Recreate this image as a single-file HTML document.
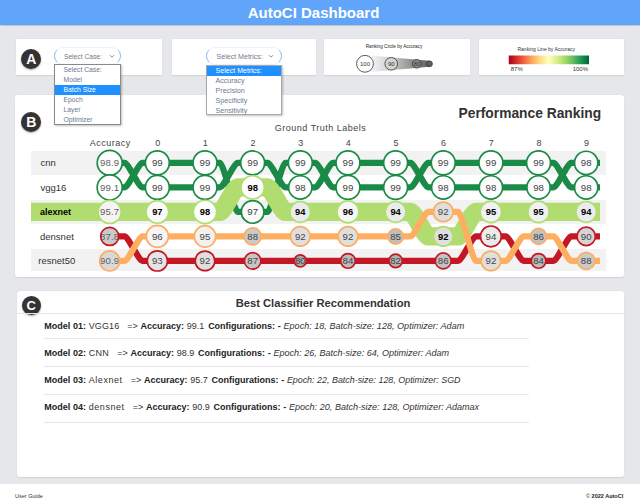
<!DOCTYPE html>
<html>
<head>
<meta charset="utf-8">
<title>AutoCI Dashboard</title>
<style>
*{box-sizing:border-box;margin:0;padding:0}
html,body{width:640px;height:498px;overflow:hidden}
body{background:#e5e7eb;font-family:"Liberation Sans",sans-serif;position:relative;color:#333}
.abs{position:absolute}
.hdr{left:0;top:0;width:640px;height:24.6px;background:#60a5fa;box-shadow:0 0.5px 1px rgba(0,0,0,.15)}
.hdr div{position:absolute;left:0;width:627px;top:3.5px;text-align:center;color:#fff;font-weight:bold;font-size:15px;line-height:17px}
.panel{background:#fff;border-radius:1px;box-shadow:0 0.5px 1.5px rgba(0,0,0,.09)}
.badge{width:20px;height:20px;border-radius:50%;background:#333;color:#fff;font-weight:bold;font-size:14px;line-height:20px;text-align:center;box-shadow:0 1px 2px rgba(0,0,0,.35)}
.sel{border:1px solid;border-color:#eaf2fe #8ebaf8;border-radius:10px;background:#fff;color:#737b88;font-size:6.7px;line-height:17.6px;white-space:nowrap}
.dd{background:#fff;border:1px solid #8a8a8a;box-shadow:1px 1px 2px rgba(0,0,0,.25);font-size:6.75px;color:#6b7a90;white-space:nowrap}
.dd div{height:10px;line-height:10px;padding-left:8.3px}
.dd div.hl{background:#1e90ff;color:#fff}
.chart{position:absolute;left:0;top:0}
.chart text{font-family:"Liberation Sans",sans-serif}
.cv{font-size:9.7px;fill:#444}
.cvb{font-size:9.4px;fill:#000;font-weight:bold}
.cva{font-size:9.6px;fill:#5f5f5f;letter-spacing:.15px}
.ch{font-size:9px;fill:#444;letter-spacing:.5px}
.rl{font-size:9.5px;fill:#333}
.rlb{font-size:9px;fill:#000;font-weight:bold}
.title{font-weight:bold;color:#333}
.row{position:absolute;left:44.3px;font-size:9px;line-height:12px;white-space:pre;color:#333;word-spacing:.2px}
.row b{color:#222}
.row i{color:#333;font-size:9.05px;word-spacing:.1px}
.sep{position:absolute;left:44px;width:485px;height:1px;background:#e5e7eb}
.tiny{font-size:5px;color:#333;white-space:nowrap;text-align:center}
</style>
</head>
<body>
<div class="abs hdr"><div>AutoCI Dashboard</div></div>

<!-- top panels -->
<div class="abs panel" style="left:16px;top:38.75px;width:146px;height:36.25px"></div>
<div class="abs panel" style="left:171.6px;top:38.75px;width:144.2px;height:36.25px"></div>
<div class="abs panel" style="left:323.75px;top:38.75px;width:146.25px;height:36.25px"></div>
<div class="abs panel" style="left:478.75px;top:38.75px;width:145.5px;height:36.25px"></div>

<!-- panel B and C -->
<div class="abs panel" style="left:14.8px;top:94.8px;width:609.7px;height:181.8px;border-radius:3px"></div>
<div class="abs panel" style="left:17.3px;top:291.3px;width:607.2px;height:185.7px;border-radius:3px"></div>

<!-- footer -->
<div class="abs" style="left:0;top:483.5px;width:640px;height:15px;background:#fff"></div>
<div class="abs" style="left:15px;top:493px;font-size:5.5px;line-height:7px;color:#333;white-space:nowrap">User Guide</div>
<div class="abs" style="left:586px;top:493px;font-size:5.5px;line-height:7px;color:#222;white-space:nowrap">© <b>2022 AutoCI</b></div>

<svg class="chart" width="640" height="498" viewBox="0 0 640 498">
<defs><clipPath id="cc"><rect x="31" y="100" width="574.9" height="171"/></clipPath></defs>
<g clip-path="url(#cc)">
<rect x="31" y="150.90" width="574.9" height="24.00" fill="#f2f2f2"/>
<rect x="31" y="175.40" width="574.9" height="24.00" fill="#ffffff"/>
<rect x="31" y="199.90" width="574.9" height="24.00" fill="#f2f2f2"/>
<rect x="31" y="224.40" width="574.9" height="24.00" fill="#ffffff"/>
<rect x="31" y="248.90" width="574.9" height="24.00" fill="#f2f2f2"/>
<path d="M109.70,162.90 L124.70,162.90 C128.23,162.90 138.82,187.40 142.35,187.40 L157.35,187.40 L205.00,187.40 L220.00,187.40 C223.53,187.40 234.12,162.90 237.65,162.90 L252.65,162.90 L267.65,162.90 C271.18,162.90 281.77,187.40 285.30,187.40 L300.30,187.40 L315.30,187.40 C318.83,187.40 329.42,162.90 332.95,162.90 L347.95,162.90 L395.60,162.90 L410.60,162.90 C414.13,162.90 424.72,187.40 428.25,187.40 L443.25,187.40 L490.90,187.40 L538.55,187.40 L553.55,187.40 C557.08,187.40 567.67,162.90 571.20,162.90 L586.20,162.90 L600.00,162.90" fill="none" stroke="#1a8b46" stroke-width="6.2"/>
<path d="M109.70,187.40 L124.70,187.40 C128.23,187.40 138.82,162.90 142.35,162.90 L157.35,162.90 L205.00,162.90 L220.00,162.90 C223.53,162.90 234.12,211.90 237.65,211.90 L252.65,211.90 L267.65,211.90 C271.18,211.90 281.77,162.90 285.30,162.90 L300.30,162.90 L315.30,162.90 C318.83,162.90 329.42,187.40 332.95,187.40 L347.95,187.40 L395.60,187.40 L410.60,187.40 C414.13,187.40 424.72,162.90 428.25,162.90 L443.25,162.90 L490.90,162.90 L538.55,162.90 L553.55,162.90 C557.08,162.90 567.67,187.40 571.20,187.40 L586.20,187.40 L600.00,187.40" fill="none" stroke="#1a8b46" stroke-width="6.2"/>
<path d="M31,211.90 L109.70,211.90 L157.35,211.90 L205.00,211.90 L220.00,211.90 C223.53,211.90 234.12,187.40 237.65,187.40 L252.65,187.40 L267.65,187.40 C271.18,187.40 281.77,211.90 285.30,211.90 L300.30,211.90 L347.95,211.90 L395.60,211.90 L410.60,211.90 C414.13,211.90 424.72,236.40 428.25,236.40 L443.25,236.40 L458.25,236.40 C461.78,236.40 472.37,211.90 475.90,211.90 L490.90,211.90 L538.55,211.90 L586.20,211.90 L600.00,211.90" fill="none" stroke="#b1dd70" stroke-width="18.3"/>
<path d="M109.70,236.40 L124.70,236.40 C128.23,236.40 138.82,260.90 142.35,260.90 L157.35,260.90 L205.00,260.90 L252.65,260.90 L300.30,260.90 L347.95,260.90 L395.60,260.90 L443.25,260.90 L458.25,260.90 C461.78,260.90 472.37,236.40 475.90,236.40 L490.90,236.40 L505.90,236.40 C509.43,236.40 520.02,260.90 523.55,260.90 L538.55,260.90 L553.55,260.90 C557.08,260.90 567.67,236.40 571.20,236.40 L586.20,236.40 L600.00,236.40" fill="none" stroke="#c41726" stroke-width="6.2"/>
<path d="M109.70,260.90 L124.70,260.90 C128.23,260.90 138.82,236.40 142.35,236.40 L157.35,236.40 L205.00,236.40 L252.65,236.40 L300.30,236.40 L347.95,236.40 L395.60,236.40 L410.60,236.40 C414.13,236.40 424.72,211.90 428.25,211.90 L443.25,211.90 L458.25,211.90 C461.78,211.90 472.37,260.90 475.90,260.90 L490.90,260.90 L505.90,260.90 C509.43,260.90 520.02,236.40 523.55,236.40 L538.55,236.40 L553.55,236.40 C557.08,236.40 567.67,260.90 571.20,260.90 L586.20,260.90 L600.00,260.90" fill="none" stroke="#fdae61" stroke-width="6.2"/>
</g>
<circle cx="109.70" cy="162.90" r="12.47" fill="#ffffff"/>
<clipPath id="c_g1_0"><circle cx="109.70" cy="162.90" r="12.47"/></clipPath>
<text clip-path="url(#c_g1_0)" x="109.70" y="166.10" text-anchor="middle" class="cva">98.9</text>
<circle cx="109.70" cy="162.90" r="12.47" fill="none" stroke="#1a8b46" stroke-width="1.7"/>
<circle cx="157.35" cy="187.40" r="11.95" fill="#ffffff"/>
<clipPath id="c_g1_1"><circle cx="157.35" cy="187.40" r="11.95"/></clipPath>
<text clip-path="url(#c_g1_1)" x="157.35" y="190.80" text-anchor="middle" class="cv">99</text>
<circle cx="157.35" cy="187.40" r="11.95" fill="none" stroke="#1a8b46" stroke-width="1.7"/>
<circle cx="205.00" cy="187.40" r="11.95" fill="#ffffff"/>
<clipPath id="c_g1_2"><circle cx="205.00" cy="187.40" r="11.95"/></clipPath>
<text clip-path="url(#c_g1_2)" x="205.00" y="190.80" text-anchor="middle" class="cv">99</text>
<circle cx="205.00" cy="187.40" r="11.95" fill="none" stroke="#1a8b46" stroke-width="1.7"/>
<circle cx="252.65" cy="162.90" r="11.95" fill="#ffffff"/>
<clipPath id="c_g1_3"><circle cx="252.65" cy="162.90" r="11.95"/></clipPath>
<text clip-path="url(#c_g1_3)" x="252.65" y="166.30" text-anchor="middle" class="cv">99</text>
<circle cx="252.65" cy="162.90" r="11.95" fill="none" stroke="#1a8b46" stroke-width="1.7"/>
<circle cx="300.30" cy="187.40" r="11.64" fill="#fdfdfd"/>
<clipPath id="c_g1_4"><circle cx="300.30" cy="187.40" r="11.64"/></clipPath>
<text clip-path="url(#c_g1_4)" x="300.30" y="190.80" text-anchor="middle" class="cv">98</text>
<circle cx="300.30" cy="187.40" r="11.64" fill="none" stroke="#1a8b46" stroke-width="1.7"/>
<circle cx="347.95" cy="162.90" r="11.95" fill="#ffffff"/>
<clipPath id="c_g1_5"><circle cx="347.95" cy="162.90" r="11.95"/></clipPath>
<text clip-path="url(#c_g1_5)" x="347.95" y="166.30" text-anchor="middle" class="cv">99</text>
<circle cx="347.95" cy="162.90" r="11.95" fill="none" stroke="#1a8b46" stroke-width="1.7"/>
<circle cx="395.60" cy="162.90" r="11.95" fill="#ffffff"/>
<clipPath id="c_g1_6"><circle cx="395.60" cy="162.90" r="11.95"/></clipPath>
<text clip-path="url(#c_g1_6)" x="395.60" y="166.30" text-anchor="middle" class="cv">99</text>
<circle cx="395.60" cy="162.90" r="11.95" fill="none" stroke="#1a8b46" stroke-width="1.7"/>
<circle cx="443.25" cy="187.40" r="11.64" fill="#fdfdfd"/>
<clipPath id="c_g1_7"><circle cx="443.25" cy="187.40" r="11.64"/></clipPath>
<text clip-path="url(#c_g1_7)" x="443.25" y="190.80" text-anchor="middle" class="cv">98</text>
<circle cx="443.25" cy="187.40" r="11.64" fill="none" stroke="#1a8b46" stroke-width="1.7"/>
<circle cx="490.90" cy="187.40" r="11.64" fill="#fdfdfd"/>
<clipPath id="c_g1_8"><circle cx="490.90" cy="187.40" r="11.64"/></clipPath>
<text clip-path="url(#c_g1_8)" x="490.90" y="190.80" text-anchor="middle" class="cv">98</text>
<circle cx="490.90" cy="187.40" r="11.64" fill="none" stroke="#1a8b46" stroke-width="1.7"/>
<circle cx="538.55" cy="187.40" r="11.64" fill="#fdfdfd"/>
<clipPath id="c_g1_9"><circle cx="538.55" cy="187.40" r="11.64"/></clipPath>
<text clip-path="url(#c_g1_9)" x="538.55" y="190.80" text-anchor="middle" class="cv">98</text>
<circle cx="538.55" cy="187.40" r="11.64" fill="none" stroke="#1a8b46" stroke-width="1.7"/>
<circle cx="586.20" cy="162.90" r="11.64" fill="#fdfdfd"/>
<clipPath id="c_g1_10"><circle cx="586.20" cy="162.90" r="11.64"/></clipPath>
<text clip-path="url(#c_g1_10)" x="586.20" y="166.30" text-anchor="middle" class="cv">98</text>
<circle cx="586.20" cy="162.90" r="11.64" fill="none" stroke="#1a8b46" stroke-width="1.7"/>
<circle cx="109.70" cy="187.40" r="12.53" fill="#ffffff"/>
<clipPath id="c_g2_0"><circle cx="109.70" cy="187.40" r="12.53"/></clipPath>
<text clip-path="url(#c_g2_0)" x="109.70" y="190.60" text-anchor="middle" class="cva">99.1</text>
<circle cx="109.70" cy="187.40" r="12.53" fill="none" stroke="#1a8b46" stroke-width="1.7"/>
<circle cx="157.35" cy="162.90" r="11.95" fill="#ffffff"/>
<clipPath id="c_g2_1"><circle cx="157.35" cy="162.90" r="11.95"/></clipPath>
<text clip-path="url(#c_g2_1)" x="157.35" y="166.30" text-anchor="middle" class="cv">99</text>
<circle cx="157.35" cy="162.90" r="11.95" fill="none" stroke="#1a8b46" stroke-width="1.7"/>
<circle cx="205.00" cy="162.90" r="11.95" fill="#ffffff"/>
<clipPath id="c_g2_2"><circle cx="205.00" cy="162.90" r="11.95"/></clipPath>
<text clip-path="url(#c_g2_2)" x="205.00" y="166.30" text-anchor="middle" class="cv">99</text>
<circle cx="205.00" cy="162.90" r="11.95" fill="none" stroke="#1a8b46" stroke-width="1.7"/>
<circle cx="252.65" cy="211.90" r="11.34" fill="#fafafa"/>
<clipPath id="c_g2_3"><circle cx="252.65" cy="211.90" r="11.34"/></clipPath>
<text clip-path="url(#c_g2_3)" x="252.65" y="215.30" text-anchor="middle" class="cv">97</text>
<circle cx="252.65" cy="211.90" r="11.34" fill="none" stroke="#1a8b46" stroke-width="1.7"/>
<circle cx="300.30" cy="162.90" r="11.95" fill="#ffffff"/>
<clipPath id="c_g2_4"><circle cx="300.30" cy="162.90" r="11.95"/></clipPath>
<text clip-path="url(#c_g2_4)" x="300.30" y="166.30" text-anchor="middle" class="cv">99</text>
<circle cx="300.30" cy="162.90" r="11.95" fill="none" stroke="#1a8b46" stroke-width="1.7"/>
<circle cx="347.95" cy="187.40" r="11.95" fill="#ffffff"/>
<clipPath id="c_g2_5"><circle cx="347.95" cy="187.40" r="11.95"/></clipPath>
<text clip-path="url(#c_g2_5)" x="347.95" y="190.80" text-anchor="middle" class="cv">99</text>
<circle cx="347.95" cy="187.40" r="11.95" fill="none" stroke="#1a8b46" stroke-width="1.7"/>
<circle cx="395.60" cy="187.40" r="11.95" fill="#ffffff"/>
<clipPath id="c_g2_6"><circle cx="395.60" cy="187.40" r="11.95"/></clipPath>
<text clip-path="url(#c_g2_6)" x="395.60" y="190.80" text-anchor="middle" class="cv">99</text>
<circle cx="395.60" cy="187.40" r="11.95" fill="none" stroke="#1a8b46" stroke-width="1.7"/>
<circle cx="443.25" cy="162.90" r="11.95" fill="#ffffff"/>
<clipPath id="c_g2_7"><circle cx="443.25" cy="162.90" r="11.95"/></clipPath>
<text clip-path="url(#c_g2_7)" x="443.25" y="166.30" text-anchor="middle" class="cv">99</text>
<circle cx="443.25" cy="162.90" r="11.95" fill="none" stroke="#1a8b46" stroke-width="1.7"/>
<circle cx="490.90" cy="162.90" r="11.95" fill="#ffffff"/>
<clipPath id="c_g2_8"><circle cx="490.90" cy="162.90" r="11.95"/></clipPath>
<text clip-path="url(#c_g2_8)" x="490.90" y="166.30" text-anchor="middle" class="cv">99</text>
<circle cx="490.90" cy="162.90" r="11.95" fill="none" stroke="#1a8b46" stroke-width="1.7"/>
<circle cx="538.55" cy="162.90" r="11.95" fill="#ffffff"/>
<clipPath id="c_g2_9"><circle cx="538.55" cy="162.90" r="11.95"/></clipPath>
<text clip-path="url(#c_g2_9)" x="538.55" y="166.30" text-anchor="middle" class="cv">99</text>
<circle cx="538.55" cy="162.90" r="11.95" fill="none" stroke="#1a8b46" stroke-width="1.7"/>
<circle cx="586.20" cy="187.40" r="11.64" fill="#fdfdfd"/>
<clipPath id="c_g2_10"><circle cx="586.20" cy="187.40" r="11.64"/></clipPath>
<text clip-path="url(#c_g2_10)" x="586.20" y="190.80" text-anchor="middle" class="cv">98</text>
<circle cx="586.20" cy="187.40" r="11.64" fill="none" stroke="#1a8b46" stroke-width="1.7"/>
<circle cx="109.70" cy="211.90" r="11.49" fill="#f4f4f4"/>
<clipPath id="c_alex_0"><circle cx="109.70" cy="211.90" r="11.49"/></clipPath>
<text clip-path="url(#c_alex_0)" x="109.70" y="215.10" text-anchor="middle" class="cva">95.7</text>
<circle cx="109.70" cy="211.90" r="11.49" fill="none" stroke="#b1dd70" stroke-width="1.7"/>
<circle cx="157.35" cy="211.90" r="11.34" fill="#fafafa"/>
<clipPath id="c_alex_1"><circle cx="157.35" cy="211.90" r="11.34"/></clipPath>
<text clip-path="url(#c_alex_1)" x="157.35" y="215.30" text-anchor="middle" class="cvb">97</text>
<circle cx="157.35" cy="211.90" r="11.34" fill="none" stroke="#b1dd70" stroke-width="1.7"/>
<circle cx="205.00" cy="211.90" r="11.64" fill="#fdfdfd"/>
<clipPath id="c_alex_2"><circle cx="205.00" cy="211.90" r="11.64"/></clipPath>
<text clip-path="url(#c_alex_2)" x="205.00" y="215.30" text-anchor="middle" class="cvb">98</text>
<circle cx="205.00" cy="211.90" r="11.64" fill="none" stroke="#b1dd70" stroke-width="1.7"/>
<circle cx="252.65" cy="187.40" r="11.64" fill="#fdfdfd"/>
<clipPath id="c_alex_3"><circle cx="252.65" cy="187.40" r="11.64"/></clipPath>
<text clip-path="url(#c_alex_3)" x="252.65" y="190.80" text-anchor="middle" class="cvb">98</text>
<circle cx="252.65" cy="187.40" r="11.64" fill="none" stroke="#b1dd70" stroke-width="1.7"/>
<circle cx="300.30" cy="211.90" r="10.41" fill="#ebebeb"/>
<clipPath id="c_alex_4"><circle cx="300.30" cy="211.90" r="10.41"/></clipPath>
<text clip-path="url(#c_alex_4)" x="300.30" y="215.30" text-anchor="middle" class="cvb">94</text>
<circle cx="300.30" cy="211.90" r="10.41" fill="none" stroke="#b1dd70" stroke-width="1.7"/>
<circle cx="347.95" cy="211.90" r="11.03" fill="#f6f6f6"/>
<clipPath id="c_alex_5"><circle cx="347.95" cy="211.90" r="11.03"/></clipPath>
<text clip-path="url(#c_alex_5)" x="347.95" y="215.30" text-anchor="middle" class="cvb">96</text>
<circle cx="347.95" cy="211.90" r="11.03" fill="none" stroke="#b1dd70" stroke-width="1.7"/>
<circle cx="395.60" cy="211.90" r="10.41" fill="#ebebeb"/>
<clipPath id="c_alex_6"><circle cx="395.60" cy="211.90" r="10.41"/></clipPath>
<text clip-path="url(#c_alex_6)" x="395.60" y="215.30" text-anchor="middle" class="cvb">94</text>
<circle cx="395.60" cy="211.90" r="10.41" fill="none" stroke="#b1dd70" stroke-width="1.7"/>
<circle cx="443.25" cy="236.40" r="9.80" fill="#dfdfdf"/>
<clipPath id="c_alex_7"><circle cx="443.25" cy="236.40" r="9.80"/></clipPath>
<text clip-path="url(#c_alex_7)" x="443.25" y="239.80" text-anchor="middle" class="cvb">92</text>
<circle cx="443.25" cy="236.40" r="9.80" fill="none" stroke="#b1dd70" stroke-width="1.7"/>
<circle cx="490.90" cy="211.90" r="10.72" fill="#f1f1f1"/>
<clipPath id="c_alex_8"><circle cx="490.90" cy="211.90" r="10.72"/></clipPath>
<text clip-path="url(#c_alex_8)" x="490.90" y="215.30" text-anchor="middle" class="cvb">95</text>
<circle cx="490.90" cy="211.90" r="10.72" fill="none" stroke="#b1dd70" stroke-width="1.7"/>
<circle cx="538.55" cy="211.90" r="10.72" fill="#f1f1f1"/>
<clipPath id="c_alex_9"><circle cx="538.55" cy="211.90" r="10.72"/></clipPath>
<text clip-path="url(#c_alex_9)" x="538.55" y="215.30" text-anchor="middle" class="cvb">95</text>
<circle cx="538.55" cy="211.90" r="10.72" fill="none" stroke="#b1dd70" stroke-width="1.7"/>
<circle cx="586.20" cy="211.90" r="10.41" fill="#ebebeb"/>
<clipPath id="c_alex_10"><circle cx="586.20" cy="211.90" r="10.41"/></clipPath>
<text clip-path="url(#c_alex_10)" x="586.20" y="215.30" text-anchor="middle" class="cvb">94</text>
<circle cx="586.20" cy="211.90" r="10.41" fill="none" stroke="#b1dd70" stroke-width="1.7"/>
<circle cx="109.70" cy="236.40" r="9.05" fill="#c9c9c9"/>
<clipPath id="c_red_0"><circle cx="109.70" cy="236.40" r="9.05"/></clipPath>
<text clip-path="url(#c_red_0)" x="109.70" y="239.60" text-anchor="middle" class="cva">87.8</text>
<circle cx="109.70" cy="236.40" r="9.05" fill="none" stroke="#c41726" stroke-width="1.7"/>
<circle cx="157.35" cy="260.90" r="10.10" fill="#e5e5e5"/>
<clipPath id="c_red_1"><circle cx="157.35" cy="260.90" r="10.10"/></clipPath>
<text clip-path="url(#c_red_1)" x="157.35" y="264.30" text-anchor="middle" class="cv">93</text>
<circle cx="157.35" cy="260.90" r="10.10" fill="none" stroke="#c41726" stroke-width="1.7"/>
<circle cx="205.00" cy="260.90" r="9.80" fill="#dfdfdf"/>
<clipPath id="c_red_2"><circle cx="205.00" cy="260.90" r="9.80"/></clipPath>
<text clip-path="url(#c_red_2)" x="205.00" y="264.30" text-anchor="middle" class="cv">92</text>
<circle cx="205.00" cy="260.90" r="9.80" fill="none" stroke="#c41726" stroke-width="1.7"/>
<circle cx="252.65" cy="260.90" r="8.26" fill="#c5c5c5"/>
<clipPath id="c_red_3"><circle cx="252.65" cy="260.90" r="8.26"/></clipPath>
<text clip-path="url(#c_red_3)" x="252.65" y="264.30" text-anchor="middle" class="cv">87</text>
<circle cx="252.65" cy="260.90" r="8.26" fill="none" stroke="#c41726" stroke-width="1.7"/>
<circle cx="300.30" cy="260.90" r="6.10" fill="#a8a8a8"/>
<clipPath id="c_red_4"><circle cx="300.30" cy="260.90" r="6.10"/></clipPath>
<text clip-path="url(#c_red_4)" x="300.30" y="264.30" text-anchor="middle" class="cv">80</text>
<circle cx="300.30" cy="260.90" r="6.10" fill="none" stroke="#c41726" stroke-width="1.7"/>
<circle cx="347.95" cy="260.90" r="7.33" fill="#bababa"/>
<clipPath id="c_red_5"><circle cx="347.95" cy="260.90" r="7.33"/></clipPath>
<text clip-path="url(#c_red_5)" x="347.95" y="264.30" text-anchor="middle" class="cv">84</text>
<circle cx="347.95" cy="260.90" r="7.33" fill="none" stroke="#c41726" stroke-width="1.7"/>
<circle cx="395.60" cy="260.90" r="6.72" fill="#b2b2b2"/>
<clipPath id="c_red_6"><circle cx="395.60" cy="260.90" r="6.72"/></clipPath>
<text clip-path="url(#c_red_6)" x="395.60" y="264.30" text-anchor="middle" class="cv">82</text>
<circle cx="395.60" cy="260.90" r="6.72" fill="none" stroke="#c41726" stroke-width="1.7"/>
<circle cx="443.25" cy="260.90" r="7.95" fill="#c2c2c2"/>
<clipPath id="c_red_7"><circle cx="443.25" cy="260.90" r="7.95"/></clipPath>
<text clip-path="url(#c_red_7)" x="443.25" y="264.30" text-anchor="middle" class="cv">86</text>
<circle cx="443.25" cy="260.90" r="7.95" fill="none" stroke="#c41726" stroke-width="1.7"/>
<circle cx="490.90" cy="236.40" r="10.41" fill="#ebebeb"/>
<clipPath id="c_red_8"><circle cx="490.90" cy="236.40" r="10.41"/></clipPath>
<text clip-path="url(#c_red_8)" x="490.90" y="239.80" text-anchor="middle" class="cv">94</text>
<circle cx="490.90" cy="236.40" r="10.41" fill="none" stroke="#c41726" stroke-width="1.7"/>
<circle cx="538.55" cy="260.90" r="7.33" fill="#bababa"/>
<clipPath id="c_red_9"><circle cx="538.55" cy="260.90" r="7.33"/></clipPath>
<text clip-path="url(#c_red_9)" x="538.55" y="264.30" text-anchor="middle" class="cv">84</text>
<circle cx="538.55" cy="260.90" r="7.33" fill="none" stroke="#c41726" stroke-width="1.7"/>
<circle cx="586.20" cy="236.40" r="9.18" fill="#d4d4d4"/>
<clipPath id="c_red_10"><circle cx="586.20" cy="236.40" r="9.18"/></clipPath>
<text clip-path="url(#c_red_10)" x="586.20" y="239.80" text-anchor="middle" class="cv">90</text>
<circle cx="586.20" cy="236.40" r="9.18" fill="none" stroke="#c41726" stroke-width="1.7"/>
<circle cx="109.70" cy="260.90" r="10.01" fill="#d9d9d9"/>
<clipPath id="c_org_0"><circle cx="109.70" cy="260.90" r="10.01"/></clipPath>
<text clip-path="url(#c_org_0)" x="109.70" y="264.10" text-anchor="middle" class="cva">90.9</text>
<circle cx="109.70" cy="260.90" r="10.01" fill="none" stroke="#fdae61" stroke-width="1.7"/>
<circle cx="157.35" cy="236.40" r="11.03" fill="#f6f6f6"/>
<clipPath id="c_org_1"><circle cx="157.35" cy="236.40" r="11.03"/></clipPath>
<text clip-path="url(#c_org_1)" x="157.35" y="239.80" text-anchor="middle" class="cv">96</text>
<circle cx="157.35" cy="236.40" r="11.03" fill="none" stroke="#fdae61" stroke-width="1.7"/>
<circle cx="205.00" cy="236.40" r="10.72" fill="#f1f1f1"/>
<clipPath id="c_org_2"><circle cx="205.00" cy="236.40" r="10.72"/></clipPath>
<text clip-path="url(#c_org_2)" x="205.00" y="239.80" text-anchor="middle" class="cv">95</text>
<circle cx="205.00" cy="236.40" r="10.72" fill="none" stroke="#fdae61" stroke-width="1.7"/>
<circle cx="252.65" cy="236.40" r="8.56" fill="#cacaca"/>
<clipPath id="c_org_3"><circle cx="252.65" cy="236.40" r="8.56"/></clipPath>
<text clip-path="url(#c_org_3)" x="252.65" y="239.80" text-anchor="middle" class="cv">88</text>
<circle cx="252.65" cy="236.40" r="8.56" fill="none" stroke="#fdae61" stroke-width="1.7"/>
<circle cx="300.30" cy="236.40" r="9.80" fill="#dfdfdf"/>
<clipPath id="c_org_4"><circle cx="300.30" cy="236.40" r="9.80"/></clipPath>
<text clip-path="url(#c_org_4)" x="300.30" y="239.80" text-anchor="middle" class="cv">92</text>
<circle cx="300.30" cy="236.40" r="9.80" fill="none" stroke="#fdae61" stroke-width="1.7"/>
<circle cx="347.95" cy="236.40" r="9.80" fill="#dfdfdf"/>
<clipPath id="c_org_5"><circle cx="347.95" cy="236.40" r="9.80"/></clipPath>
<text clip-path="url(#c_org_5)" x="347.95" y="239.80" text-anchor="middle" class="cv">92</text>
<circle cx="347.95" cy="236.40" r="9.80" fill="none" stroke="#fdae61" stroke-width="1.7"/>
<circle cx="395.60" cy="236.40" r="7.64" fill="#bebebe"/>
<clipPath id="c_org_6"><circle cx="395.60" cy="236.40" r="7.64"/></clipPath>
<text clip-path="url(#c_org_6)" x="395.60" y="239.80" text-anchor="middle" class="cv">85</text>
<circle cx="395.60" cy="236.40" r="7.64" fill="none" stroke="#fdae61" stroke-width="1.7"/>
<circle cx="443.25" cy="211.90" r="9.80" fill="#dfdfdf"/>
<clipPath id="c_org_7"><circle cx="443.25" cy="211.90" r="9.80"/></clipPath>
<text clip-path="url(#c_org_7)" x="443.25" y="215.30" text-anchor="middle" class="cv">92</text>
<circle cx="443.25" cy="211.90" r="9.80" fill="none" stroke="#fdae61" stroke-width="1.7"/>
<circle cx="490.90" cy="260.90" r="9.80" fill="#dfdfdf"/>
<clipPath id="c_org_8"><circle cx="490.90" cy="260.90" r="9.80"/></clipPath>
<text clip-path="url(#c_org_8)" x="490.90" y="264.30" text-anchor="middle" class="cv">92</text>
<circle cx="490.90" cy="260.90" r="9.80" fill="none" stroke="#fdae61" stroke-width="1.7"/>
<circle cx="538.55" cy="236.40" r="7.95" fill="#c2c2c2"/>
<clipPath id="c_org_9"><circle cx="538.55" cy="236.40" r="7.95"/></clipPath>
<text clip-path="url(#c_org_9)" x="538.55" y="239.80" text-anchor="middle" class="cv">86</text>
<circle cx="538.55" cy="236.40" r="7.95" fill="none" stroke="#fdae61" stroke-width="1.7"/>
<circle cx="586.20" cy="260.90" r="8.56" fill="#cacaca"/>
<clipPath id="c_org_10"><circle cx="586.20" cy="260.90" r="8.56"/></clipPath>
<text clip-path="url(#c_org_10)" x="586.20" y="264.30" text-anchor="middle" class="cv">88</text>
<circle cx="586.20" cy="260.90" r="8.56" fill="none" stroke="#fdae61" stroke-width="1.7"/>
<text x="110.30" y="145.8" text-anchor="middle" class="ch">Accuracy</text>
<text x="157.95" y="145.8" text-anchor="middle" class="ch">0</text>
<text x="205.60" y="145.8" text-anchor="middle" class="ch">1</text>
<text x="253.25" y="145.8" text-anchor="middle" class="ch">2</text>
<text x="300.90" y="145.8" text-anchor="middle" class="ch">3</text>
<text x="348.55" y="145.8" text-anchor="middle" class="ch">4</text>
<text x="396.20" y="145.8" text-anchor="middle" class="ch">5</text>
<text x="443.85" y="145.8" text-anchor="middle" class="ch">6</text>
<text x="491.50" y="145.8" text-anchor="middle" class="ch">7</text>
<text x="539.15" y="145.8" text-anchor="middle" class="ch">8</text>
<text x="586.80" y="145.8" text-anchor="middle" class="ch">9</text>
<text x="320.6" y="130.7" text-anchor="middle" class="ch">Ground Truth Labels</text>
<text x="40.40" y="166.00" class="rl">cnn</text>
<text x="40.40" y="190.50" class="rl">vgg16</text>
<text x="40.00" y="215.00" class="rlb">alexnet</text>
<text x="40.00" y="239.50" class="rl">densnet</text>
<text x="38.30" y="264.00" class="rl">resnet50</text>
</svg>

<!-- legend svg -->
<svg class="chart" width="640" height="100" viewBox="0 0 640 100">
<defs>
<linearGradient id="gg" x1="0" x2="1" y1="0" y2="0"><stop offset="0" stop-color="#ffffff"/><stop offset="0.4" stop-color="#cfcfcf"/><stop offset="0.8" stop-color="#808080"/><stop offset="1" stop-color="#606060"/></linearGradient>
<linearGradient id="ryg" x1="0" x2="1" y1="0" y2="0">
<stop offset="0" stop-color="#a50026"/><stop offset="0.1" stop-color="#d73027"/><stop offset="0.2" stop-color="#f46d43"/><stop offset="0.3" stop-color="#fdae61"/><stop offset="0.4" stop-color="#fee08b"/><stop offset="0.5" stop-color="#ffffbf"/><stop offset="0.6" stop-color="#d9ef8b"/><stop offset="0.7" stop-color="#a6d96a"/><stop offset="0.8" stop-color="#66bd63"/><stop offset="0.9" stop-color="#1a9850"/><stop offset="1" stop-color="#006837"/>
</linearGradient>
</defs>
<text x="394" y="48.1" text-anchor="middle" font-size="4.65" fill="#222">Ranking Circle by Accuracy</text>
<polygon points="365,55.05 429.5,60.8 429.5,66.8 365,72.55" fill="url(#gg)"/>
<circle cx="365" cy="63.8" r="8.4" fill="#fff" stroke="#333" stroke-width=".8"/>
<text x="365" y="65.95" text-anchor="middle" font-size="6" fill="#333">100</text>
<circle cx="391.25" cy="63.8" r="6.3" fill="#d4d4d4" stroke="#333" stroke-width=".8"/>
<text x="391.25" y="65.95" text-anchor="middle" font-size="6" fill="#333">90</text>
<circle cx="416.75" cy="63.8" r="4.3" fill="#8a8a8a" stroke="#333" stroke-width=".8"/>
<text x="416.75" y="65.75" text-anchor="middle" font-size="5.5" fill="#333">80</text>
<circle cx="429.5" cy="63.8" r="2.9" fill="#606060" stroke="#333" stroke-width=".8"/>
<text x="546.25" y="51" text-anchor="middle" font-size="5" fill="#333">Ranking Line by Accuracy</text>
<rect x="508.75" y="55.5" width="80.25" height="8.75" fill="url(#ryg)"/>
<text x="510.75" y="70.8" font-size="6" fill="#333">87%</text>
<text x="588" y="70.8" text-anchor="end" font-size="6" fill="#333">100%</text>
</svg>

<!-- badges -->
<div class="abs badge" style="left:21.4px;top:48.75px">A</div>
<div class="abs badge" style="left:21.2px;top:112px">B</div>
<div class="abs badge" style="left:21.75px;top:295.6px;width:19px;height:19px;line-height:19px;font-size:13px">C</div>

<!-- titles -->
<div class="abs title" style="left:458.5px;top:106px;font-size:13.8px;line-height:16px;white-space:nowrap">Performance Ranking</div>
<div class="abs title" style="left:200px;width:246px;top:296.8px;font-size:11.2px;line-height:13px;text-align:center;white-space:nowrap">Best Classifier Recommendation</div>
<div class="abs" style="left:17px;top:312.5px;width:607.2px;left:17.3px;height:1px;background:#e5e7eb"></div>

<!-- recommendation rows -->
<div class="row" style="top:319.6px"><b>Model 01:</b> <span style="letter-spacing:0.1px">VGG16</span>   =&gt; <b>Accuracy:</b> 99.1<span style="word-spacing:-.6px">  </span><b>Configurations: -</b> <i>Epoch: 18, Batch-size: 128, Optimizer: Adam</i></div>
<div class="sep" style="top:338px"></div>
<div class="row" style="top:346.6px"><b>Model 02:</b> <span style="letter-spacing:0.3px">CNN</span>   =&gt; <b>Accuracy:</b> 98.9<span style="word-spacing:-.6px">  </span><b>Configurations: -</b> <i>Epoch: 26, Batch-size: 64, Optimizer: Adam</i></div>
<div class="sep" style="top:366px"></div>
<div class="row" style="top:374.1px"><b>Model 03:</b> <span style="letter-spacing:0.55px">Alexnet</span>   =&gt; <b>Accuracy:</b> 95.7<span style="word-spacing:-.6px">  </span><b>Configurations: -</b> <i style="font-size:8.88px">Epoch: 22, Batch-size: 128, Optimizer: SGD</i></div>
<div class="sep" style="top:394px"></div>
<div class="row" style="top:401.1px"><b>Model 04:</b> <span style="letter-spacing:0.55px">densnet</span>   =&gt; <b>Accuracy:</b> 90.9<span style="word-spacing:-.6px">  </span><b>Configurations: -</b> <i>Epoch: 20, Batch-size: 128, Optimizer: Adamax</i></div>
<div class="sep" style="top:422px"></div>

<!-- selects -->
<div class="abs sel" style="left:53.75px;top:46.6px;width:67.7px;height:18.6px;padding-left:9.2px">Select Case:</div>
<svg class="abs" style="left:109px;top:53.7px" width="6" height="5" viewBox="0 0 6 5"><path d="M1,1.2 L3,3.2 L5,1.2" fill="none" stroke="#6b7280" stroke-width=".8"/></svg>
<div class="abs dd" style="left:54.3px;top:64.3px;width:67.2px;height:60.4px">
<div>Select Case:</div><div>Model</div><div class="hl">Batch Size</div><div>Epoch</div><div>Layer</div><div>Optimizer</div>
</div>

<div class="abs sel" style="left:206.25px;top:47px;width:75.5px;height:18px;padding-left:9.3px;font-size:7.05px">Select Metrics:</div>
<svg class="abs" style="left:268px;top:53.5px" width="6" height="5" viewBox="0 0 6 5"><path d="M1,1.2 L3,3.2 L5,1.2" fill="none" stroke="#6b7280" stroke-width=".8"/></svg>
<div class="abs dd" style="left:206.3px;top:64.8px;width:75.6px;height:50.6px;border-color:#a8a8a8;font-size:7.05px">
<div class="hl">Select Metrics:</div><div>Accuracy</div><div>Precision</div><div>Specificity</div><div>Sensitivity</div>
</div>

</body>
</html>
